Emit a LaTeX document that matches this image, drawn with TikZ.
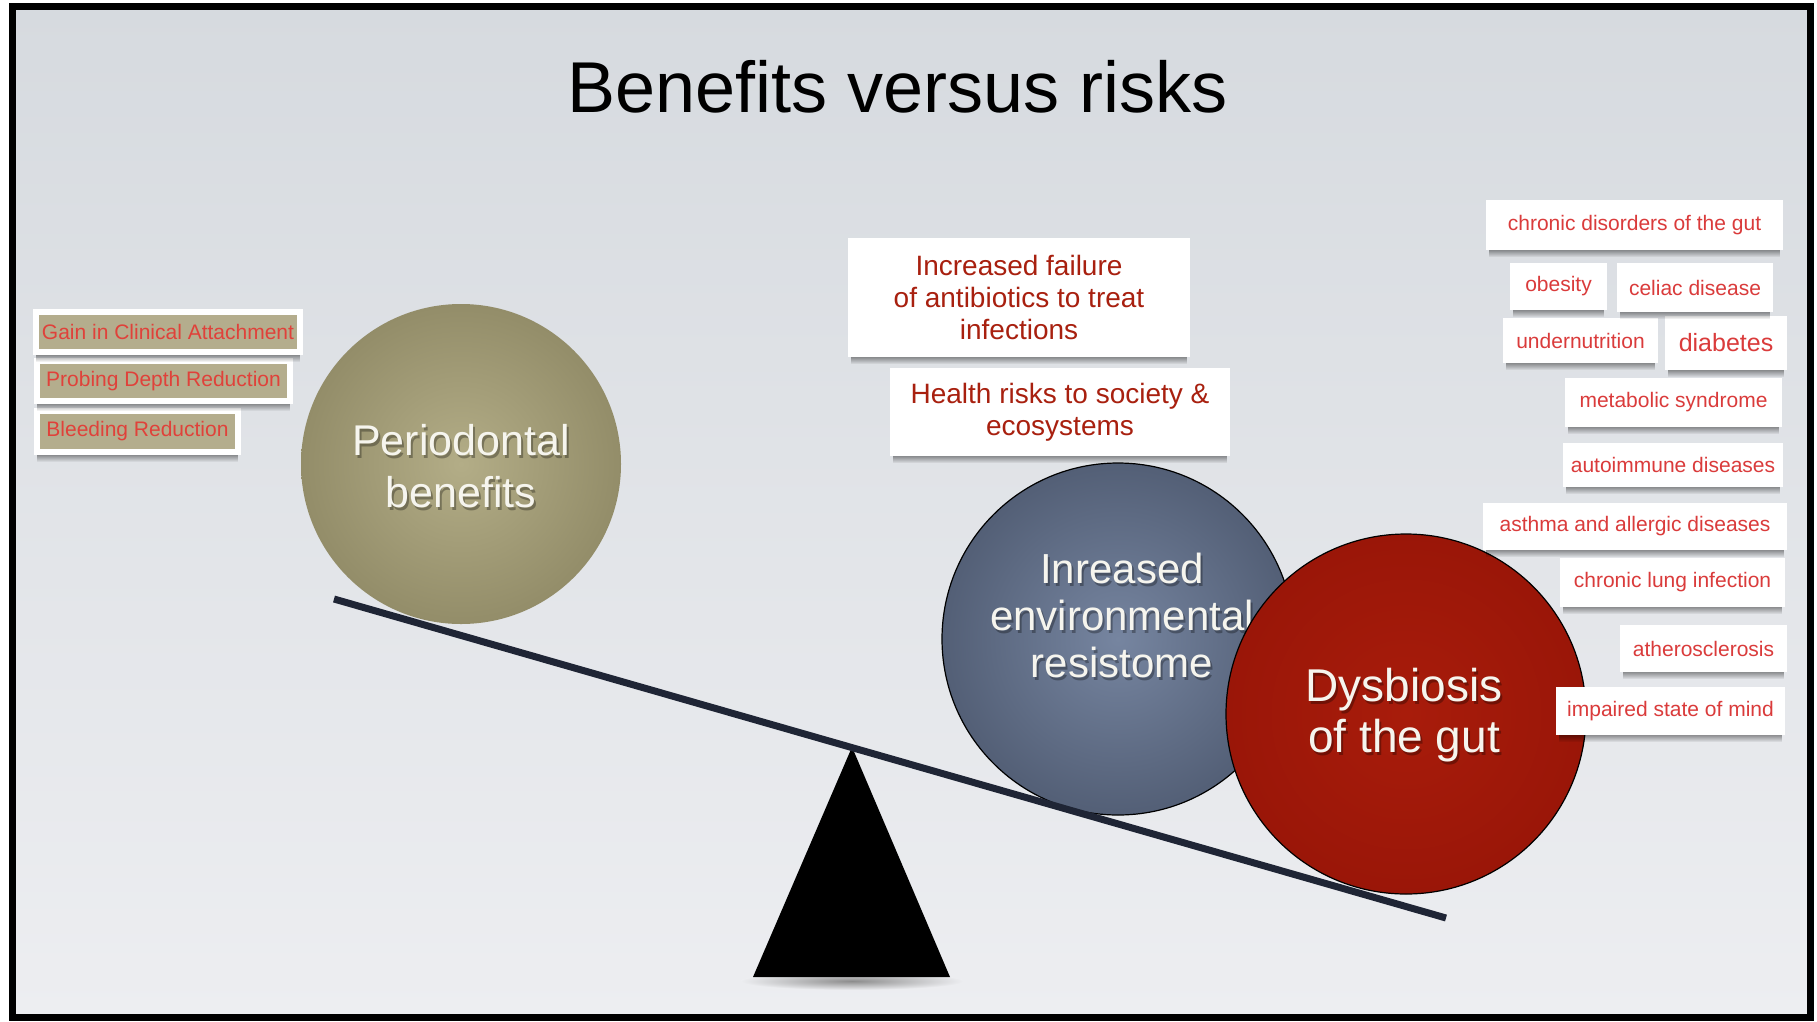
\documentclass[tikz,border=0pt]{standalone}
\usepackage{fontspec}
\setmainfont{Liberation Sans}
\usetikzlibrary{calc,fadings}

\definecolor{bgtop}{HTML}{D6DADF}
\definecolor{bgbot}{HTML}{EDEEF1}
\definecolor{beamcol}{HTML}{1F2535}
\definecolor{rred}{HTML}{DA3B3B}
\definecolor{mred}{HTML}{A8200F}
\definecolor{lred}{HTML}{E0413A}
\definecolor{tanfill}{HTML}{B4AD8D}
\definecolor{olivein}{HTML}{B3AD87}
\definecolor{oliveout}{HTML}{938D69}
\definecolor{slatein}{HTML}{7685A0}
\definecolor{slateout}{HTML}{535F76}
\definecolor{gutin}{HTML}{A81C0B}
\definecolor{gutout}{HTML}{9A1608}
\definecolor{circtext}{HTML}{F6F5EE}

% soft shadow strip that fades out downwards
\tikzfading[name=shadefade, top color=transparent!0, bottom color=transparent!100]
\newcommand\papershade[1]{%
  \fill[black, opacity=.38, path fading=shadefade]
    ($(#1.south west)+(3,0)$) rectangle ($(#1.south east)+(-3,7)$);}

\tikzset{
  rbox/.style={fill=white, text=rred, font=\fontsize{21}{25}\selectfont, inner sep=0pt},
  mbox/.style={fill=white, text=mred, font=\fontsize{28}{32}\selectfont, align=center, inner sep=0pt},
  tanbox/.style={fill=tanfill, draw=white, line width=6pt, outer sep=3pt, text=lred,
                 font=\fontsize{21}{25}\selectfont, inner sep=0pt},
  ball/.style={circle, inner sep=0pt},
  balltext/.style={text=circtext, align=center},
  ballshadow/.style={text=black, opacity=.3, align=center},
}

\begin{document}
\begin{tikzpicture}[x=1pt, y=-1pt]
\useasboundingbox (0,0) rectangle (1817,1021);
\fill[white] (0,0) rectangle (1817,1021);

% slide background and frame
\shade[top color=bgtop, bottom color=bgbot] (12,6) rectangle (1810,1018);
\draw[black, line width=7pt] (12,6.5) rectangle (1810,1017.5);

% title
\node[anchor=base, font=\fontsize{72}{80}\selectfont] (title) at (897.5,112) {Benefits versus risks};

% benefits list
\node[tanbox, minimum width=264, minimum height=40] (g1) at (168,332) {Gain in Clinical Attachment};
\node[tanbox, minimum width=253, minimum height=40] (g2) at (163.5,381) {Probing Depth Reduction};
\node[tanbox, minimum width=201, minimum height=41] (g3) at (137.5,431.5) {Bleeding Reduction};
\foreach \n in {g1,g2,g3} {\papershade{\n}}

% risk notes above the balls
\node[mbox, minimum width=342, minimum height=119] (m1) at (1019,297.5)
  {Increased failure\\of antibiotics to treat\\infections};
\node[mbox, minimum width=340, minimum height=88] (m2) at (1060,412)
  {Health risks to society \&\\ecosystems};
\foreach \n in {m1,m2} {\papershade{\n}}

% fulcrum with its floor shadow
\shade[inner color=black!45, outer color=bgbot] (852,981) ellipse (112 and 9);
\coordinate (apex) at (852,747);
\coordinate (baseL) at (753,977);
\coordinate (baseR) at (950,977);
\fill[black] (apex) -- (baseR) -- (baseL) -- cycle;

% the three balls
\node[ball, minimum size=320, inner color=olivein, outer color=oliveout] (P) at (461,464) {};
\node[ballshadow, font=\fontsize{43}{52}\selectfont] at (463,469) {Periodontal\\benefits};
\node[balltext, font=\fontsize{43}{52}\selectfont] (Ptext) at (461,466) {Periodontal\\benefits};

\node[ball, draw=black, line width=1.2pt, minimum size=352, inner color=slatein, outer color=slateout] (R) at (1118,639) {};
\node[ballshadow, font=\fontsize{42}{47}\selectfont] at (1124,618) {Inreased\\environmental\\resistome};
\node[balltext, font=\fontsize{42}{47}\selectfont] (Rtext) at (1122,615) {Inreased\\environmental\\resistome};

\node[ball, draw=black, line width=1.2pt, minimum size=360, inner color=gutin, outer color=gutout] (D) at (1406,714) {};
\node[ballshadow, font=\fontsize{46}{51}\selectfont] at (1406,718) {Dysbiosis\\of the gut};
\node[balltext, font=\fontsize{46}{51}\selectfont] (Dtext) at (1404,715) {Dysbiosis\\of the gut};

% gut disorders list, laid over the red ball
\node[rbox, minimum width=297, minimum height=50] (r1) at (1634.5,225) {chronic disorders of the gut};
\node[rbox, minimum width=97, minimum height=47] (r2) at (1558.5,286.5) {obesity};
\node[rbox, minimum width=156, minimum height=49] (r3) at (1695,287.5) {celiac disease};
\node[rbox, minimum width=155, minimum height=45] (r4) at (1580.5,340.5) {undernutrition};
\node[rbox, minimum width=122, minimum height=54, font=\fontsize{25}{29}\selectfont] (r5) at (1726,343) {diabetes};
\node[rbox, minimum width=217, minimum height=49] (r6) at (1673.5,402.5) {metabolic syndrome};
\node[rbox, minimum width=220, minimum height=44] (r7) at (1673,465) {autoimmune diseases};
\node[rbox, minimum width=304, minimum height=47] (r8) at (1635,526.5) {asthma and allergic diseases};
\node[rbox, minimum width=225, minimum height=49] (r9) at (1672.5,582.5) {chronic lung infection};
\node[rbox, minimum width=167, minimum height=47] (r10) at (1703.5,648.5) {atherosclerosis};
\node[rbox, minimum width=229, minimum height=48] (r11) at (1670.5,711) {impaired state of mind};
\foreach \n in {r1,r2,r3,r4,r5,r6,r7,r8,r9,r10,r11} {\papershade{\n}}

% tilted beam
\coordinate (beamL) at (334,599);
\coordinate (beamR) at (1446,918);
\draw[beamcol, line width=7pt] (beamL) -- (beamR);
\end{tikzpicture}
\end{document}
